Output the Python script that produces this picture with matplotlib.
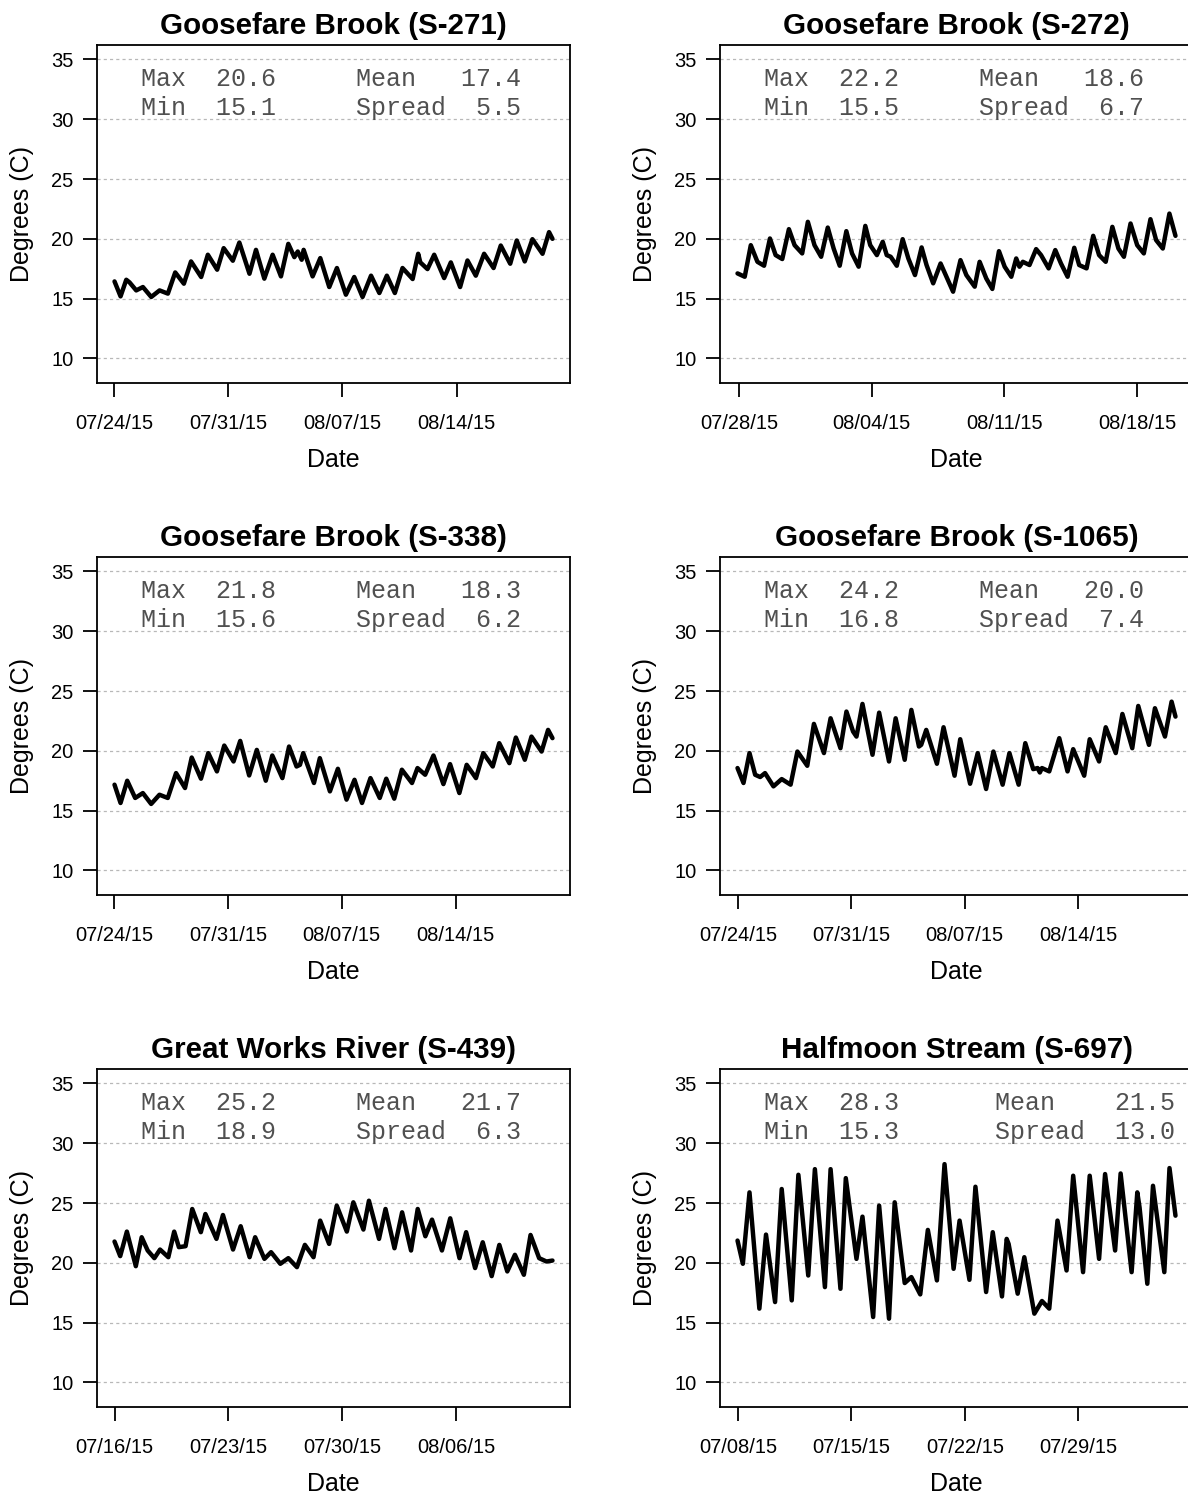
import numpy as np
import matplotlib
matplotlib.use("Agg")
import matplotlib.pyplot as plt
import matplotlib.dates as mdates
from datetime import datetime

# ---------------- data ----------------
titles = ["Goosefare Brook (S-271)", "Goosefare Brook (S-272)",
          "Goosefare Brook (S-338)", "Goosefare Brook (S-1065)",
          "Great Works River (S-439)", "Halfmoon Stream (S-697)"]
start_dates = ["2015-07-24", "2015-07-28", "2015-07-24",
               "2015-07-24", "2015-07-16", "2015-07-08"]

# time in days since start date, temperature in degrees C (daily highs/lows)
t1 = [0.04,0.41,0.76,0.96,1.37,1.78,2.29,2.80,3.31,3.76,4.29,4.73,5.35,5.76,6.33,6.73,7.29,7.69,8.31,8.71,
      9.22,9.73,10.24,10.69,11.06,11.27,11.51,11.63,12.18,12.65,13.20,13.67,14.22,14.73,15.24,15.76,16.27,
      16.73,17.22,17.69,18.31,18.65,18.78,19.22,19.63,20.24,20.65,21.22,21.67,22.18,22.69,23.27,23.71,24.29,
      24.69,25.18,25.65,26.27,26.67,26.88]
v1 = [16.44,15.19,16.58,16.36,15.69,15.97,15.14,15.69,15.42,17.19,16.25,18.11,16.81,18.67,17.42,19.22,18.17,
      19.69,17.08,19.08,16.67,18.67,16.86,19.58,18.47,18.94,18.25,19.08,16.86,18.39,15.97,17.56,15.33,16.81,
      15.14,16.92,15.47,16.92,15.47,17.56,16.64,18.75,18.03,17.47,18.67,16.72,18.03,15.97,18.19,16.92,18.75,
      17.56,19.44,17.92,19.86,18.11,19.97,18.75,20.56,20.00]

t2 = [-0.07,0.31,0.63,0.98,1.33,1.64,1.94,2.29,2.64,2.94,3.34,3.64,3.99,4.34,4.69,5.00,5.32,5.67,5.97,6.32,
      6.67,6.93,7.28,7.59,7.80,8.01,8.33,8.64,8.94,9.29,9.64,9.90,10.25,10.64,11.30,11.69,12.00,12.44,12.70,
      13.05,13.37,13.72,14.02,14.37,14.63,14.80,14.98,15.33,15.68,15.94,16.34,16.69,16.99,17.34,17.69,17.95,
      18.34,18.69,19.00,19.35,19.70,20.02,20.31,20.66,21.01,21.36,21.71,22.01,22.36,22.71,23.03]
v2 = [17.11,16.83,19.47,18.08,17.75,20.03,18.64,18.31,20.81,19.47,18.78,21.42,19.47,18.50,20.94,19.19,17.75,
      20.64,18.78,17.67,21.08,19.47,18.64,19.75,18.64,18.50,17.75,19.97,18.36,16.97,19.28,17.81,16.28,17.94,
      15.58,18.22,16.97,16.00,18.08,16.69,15.81,18.97,17.67,16.83,18.36,17.67,18.08,17.81,19.14,18.64,17.53,
      19.06,17.94,16.83,19.25,17.81,17.53,20.25,18.64,18.08,21.00,19.19,18.50,21.28,19.47,18.78,21.64,19.89,
      19.19,22.11,20.25]

t3 = [0.04,0.41,0.82,1.31,1.78,2.29,2.80,3.31,3.82,4.37,4.78,5.35,5.80,6.33,6.78,7.35,7.76,8.31,8.78,9.33,
      9.73,10.35,10.76,11.22,11.43,11.63,12.29,12.65,13.27,13.76,14.29,14.78,15.24,15.76,16.33,16.73,17.22,
      17.69,18.31,18.65,19.12,19.63,20.24,20.65,21.22,21.67,22.24,22.69,23.27,23.67,24.29,24.69,25.24,25.65,
      26.27,26.67,26.94]
v3 = [17.17,15.64,17.50,16.06,16.47,15.56,16.33,16.06,18.14,16.89,19.44,17.67,19.81,18.28,20.44,19.11,20.83,
      17.94,20.08,17.50,19.61,17.72,20.36,18.69,18.83,19.81,17.31,19.39,16.61,18.50,15.92,17.58,15.64,17.72,
      16.06,17.67,16.00,18.42,17.31,18.56,18.00,19.61,17.22,18.89,16.47,18.83,17.72,19.81,18.69,20.64,18.97,
      21.11,19.25,21.19,19.94,21.75,21.06]

t4 = [-0.04,0.33,0.70,1.05,1.36,1.66,2.18,2.69,3.24,3.66,4.27,4.68,5.30,5.71,6.32,6.69,7.10,7.31,7.68,8.30,
      8.71,9.32,9.73,10.29,10.70,11.17,11.31,11.62,12.28,12.69,13.37,13.72,14.33,14.80,15.32,15.77,16.34,
      16.76,17.33,17.74,18.23,18.50,18.64,18.77,19.22,19.84,20.35,20.70,21.38,21.72,22.30,22.71,23.33,23.74,
      24.35,24.72,25.38,25.75,26.37,26.78,27.02]
v4 = [18.56,17.31,19.81,18.00,17.81,18.14,17.03,17.64,17.17,19.94,18.75,22.25,19.81,22.72,20.22,23.28,21.61,
      21.19,23.92,19.67,23.19,19.11,22.72,19.25,23.42,20.36,20.50,21.75,18.92,21.97,17.92,20.97,17.25,19.81,
      16.81,19.94,17.17,19.81,17.17,20.64,18.47,18.56,18.19,18.56,18.28,21.06,18.28,20.14,17.92,20.97,19.11,
      21.97,19.81,23.08,20.22,23.75,20.50,23.56,21.19,24.11,22.86]

t5 = [0.00,0.35,0.76,1.31,1.67,2.04,2.45,2.80,3.31,3.67,3.96,4.37,4.78,5.31,5.59,6.27,6.67,7.29,7.76,8.31,
      8.65,9.22,9.63,10.20,10.69,11.22,11.71,12.24,12.65,13.20,13.67,14.29,14.69,15.31,15.65,16.27,16.67,
      17.22,17.69,18.24,18.65,19.12,19.53,20.14,20.65,21.22,21.63,22.18,22.65,23.20,23.67,24.16,24.63,25.18,
      25.59,26.12,26.57,26.94]
v5 = [21.78,20.56,22.61,19.72,22.14,21.03,20.39,21.11,20.47,22.61,21.31,21.39,24.50,22.56,24.08,22.00,24.00,
      21.11,23.06,20.47,22.14,20.33,20.89,19.92,20.39,19.64,21.50,20.47,23.53,21.58,24.78,22.61,25.06,22.78,
      25.19,22.00,24.50,21.22,24.22,21.03,24.50,22.22,23.61,21.03,23.72,20.39,22.56,19.56,21.72,18.89,21.50,
      19.28,20.67,19.00,22.33,20.39,20.11,20.19]

t6 = [-0.04,0.29,0.70,1.31,1.72,2.28,2.69,3.31,3.72,4.33,4.74,5.36,5.71,6.32,6.65,7.31,7.68,8.34,8.71,9.32,
      9.67,10.29,10.70,11.25,11.72,12.28,12.75,13.31,13.68,14.29,14.66,15.32,15.73,16.30,16.59,16.71,17.27,
      17.68,18.30,18.77,19.22,19.73,20.29,20.70,21.31,21.72,22.30,22.67,23.29,23.63,24.31,24.66,24.80,25.28,
      25.63,26.33,26.65,27.02]
v6 = [21.86,19.92,25.89,16.17,22.36,16.72,26.17,16.86,27.36,18.94,27.83,17.97,27.83,17.83,27.08,20.33,23.86,
      15.47,24.78,15.33,25.06,18.31,18.81,17.36,22.75,18.53,28.25,19.50,23.53,18.58,26.36,17.56,22.56,17.19,
      22.00,21.58,17.42,20.47,15.75,16.81,16.17,23.53,19.36,27.28,19.22,27.28,20.33,27.42,21.03,27.47,19.22,
      25.89,24.64,18.25,26.44,19.22,27.92,23.94]

stats_max = [20.6, 22.2, 21.8, 24.2, 25.2, 28.3]
stats_min = [15.1, 15.5, 15.6, 16.8, 18.9, 15.3]
stats_mean = [17.4, 18.6, 18.3, 20.0, 21.7, 21.5]
stats_spread = [5.5, 6.7, 6.2, 7.4, 6.3, 13.0]
y_ticks = [10, 15, 20, 25, 30, 35]
x_tick_days = [0, 7, 14, 21]

times = [t1, t2, t3, t4, t5, t6]
temps = [v1, v2, v3, v4, v5, v6]

# ---------------- layout ----------------
W, H = 1188, 1495
plt.rcParams['font.family'] = ['Liberation Sans', 'DejaVu Sans']
fig = plt.figure(figsize=(W / 100, H / 100), dpi=100)
fig.patch.set_facecolor('white')

col_left = [97, 720]
row_top = [45, 557, 1069]
aw, ah = 473, 338
col2_x = [0.5476, 0.5476, 0.5476, 0.5476, 0.5476, 0.5814]
col2_w = [7, 7, 7, 7, 7, 8]

for i in range(6):
    r, c = divmod(i, 2)
    rect = [col_left[c] / W, 1 - (row_top[r] + ah) / H, aw / W, ah / H]
    ax = fig.add_axes(rect)
    base = mdates.date2num(datetime.strptime(start_dates[i], "%Y-%m-%d"))
    x = base + np.array(times[i])
    y = np.array(temps[i])
    ax.plot(x, y, color='black', lw=3.2, solid_joinstyle='round',
            solid_capstyle='round', zorder=3)

    span = x.max() - x.min()
    ax.set_xlim(x.min() - 0.04 * span, x.max() + 0.04 * span)
    ax.set_ylim(7.95, 36.2)
    ax.set_yticks(y_ticks)
    ax.set_xticks([base + d for d in x_tick_days])
    ax.xaxis.set_major_formatter(mdates.DateFormatter('%m/%d/%y'))

    ax.yaxis.grid(True, linestyle=(0, (2.5, 2.5)), color='#b8b8b8', lw=0.9)
    ax.xaxis.grid(False)
    ax.set_axisbelow(True)
    for s in ax.spines.values():
        s.set_linewidth(1.3)
        s.set_color('black')
    ax.tick_params(axis='both', direction='out', length=10, width=1.3,
                   labelsize=14.5, colors='black')
    ax.tick_params(axis='x', pad=12)
    ax.tick_params(axis='y', pad=7)

    ax.set_title(titles[i], fontsize=21.3, fontweight='bold', pad=8)
    ax.set_xlabel('Date', fontsize=18, labelpad=11)
    ax.set_ylabel('Degrees (C)', fontsize=18, labelpad=12)

    tr = ax.get_yaxis_transform()
    mono = dict(family='Liberation Mono', fontsize=18, color='#505050',
                va='baseline', ha='left', transform=tr)
    ax.text(0.093, 32.8, f"{'Max':<5}{stats_max[i]:>4.1f}", **mono)
    ax.text(0.093, 30.33, f"{'Min':<5}{stats_min[i]:>4.1f}", **mono)
    ax.text(col2_x[i], 32.8, f"{'Mean':<{col2_w[i]}}{stats_mean[i]:>4.1f}", **mono)
    ax.text(col2_x[i], 30.33, f"{'Spread':<{col2_w[i]}}{stats_spread[i]:>4.1f}", **mono)

fig.savefig('out.png', dpi=100, facecolor='white')
